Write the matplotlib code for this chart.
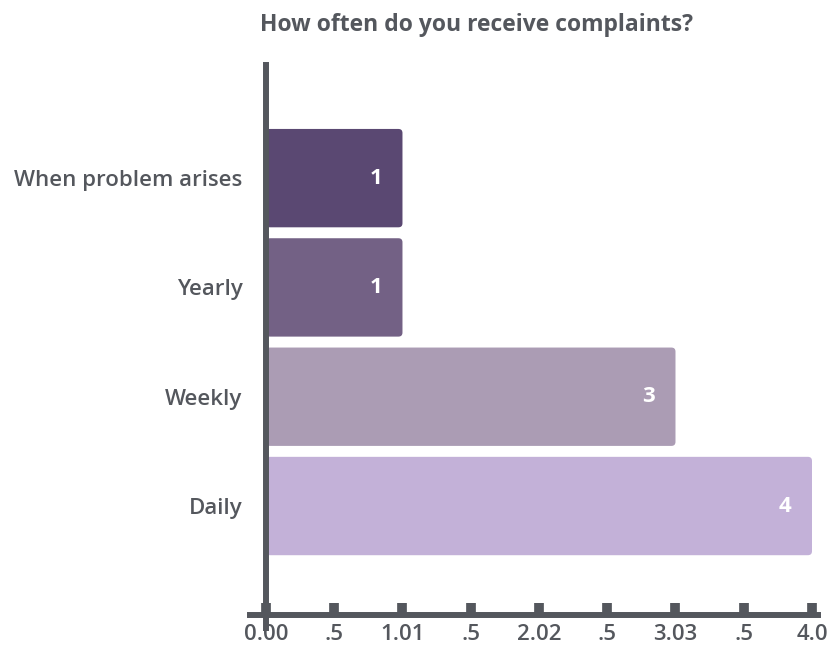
import matplotlib
matplotlib.use("Agg")
import matplotlib.pyplot as plt
from matplotlib.patches import FancyBboxPatch

categories = ["Daily", "Weekly", "Yearly", "When problem arises"]
counts = [4, 3, 1, 1]
bar_colors = ["#c3b1d8", "#ab9cb4", "#736185", "#5a4872"]
tick_values = [0, 0.5, 1, 1.5, 2, 2.5, 3, 3.5, 4]
tick_labels = ["0.00", ".5", "1.01", ".5", "2.02", ".5", "3.03", ".5", "4.0"]

ink = "#54575d"
plt.rcParams["font.family"] = ["Open Sans", "DejaVu Sans"]

fig = plt.figure(figsize=(8.28, 6.48), dpi=100)
ax = fig.add_axes([250 / 828, 20 / 648, 568 / 828, 563 / 648])

bar_h = 0.9
for i, (val, col) in enumerate(zip(counts, bar_colors)):
    box = FancyBboxPatch((0, i - bar_h / 2), val, bar_h,
                         boxstyle="round,pad=0,rounding_size=0.03",
                         mutation_aspect=1.22, facecolor=col, edgecolor="none",
                         zorder=2)
    ax.add_patch(box)
    ax.text(val - 0.15, i, str(val), ha="right", va="center", color="white",
            fontsize=16, fontweight="bold", zorder=3)

ax.set_xlim(-0.117, 4.044)
ax.set_ylim(-1.116, 4.035)

ax.set_yticks(range(len(categories)))
ax.set_yticklabels(categories)
ax.set_xticks(tick_values)
ax.set_xticklabels(tick_labels)

for s in ["top", "right"]:
    ax.spines[s].set_visible(False)
ax.spines["left"].set_position(("data", 0))
ax.spines["bottom"].set_position(("data", -1.0))
for s in ["left", "bottom"]:
    ax.spines[s].set_color(ink)
    ax.spines[s].set_linewidth(4.3)
    ax.spines[s].set_zorder(4)

ax.tick_params(axis="y", length=0, pad=17, labelsize=16, labelcolor=ink)
ax.tick_params(axis="x", direction="in", length=9, width=7, color=ink,
               pad=6, labelsize=16, labelcolor=ink)
for lab in ax.get_xticklabels() + ax.get_yticklabels():
    lab.set_fontweight("semibold")

fig.text(260 / 828, 1 - 25 / 648, "How often do you receive complaints?",
         ha="left", va="center", fontsize=16.5, fontweight="bold", color=ink)

fig.savefig("out.png", dpi=100)
